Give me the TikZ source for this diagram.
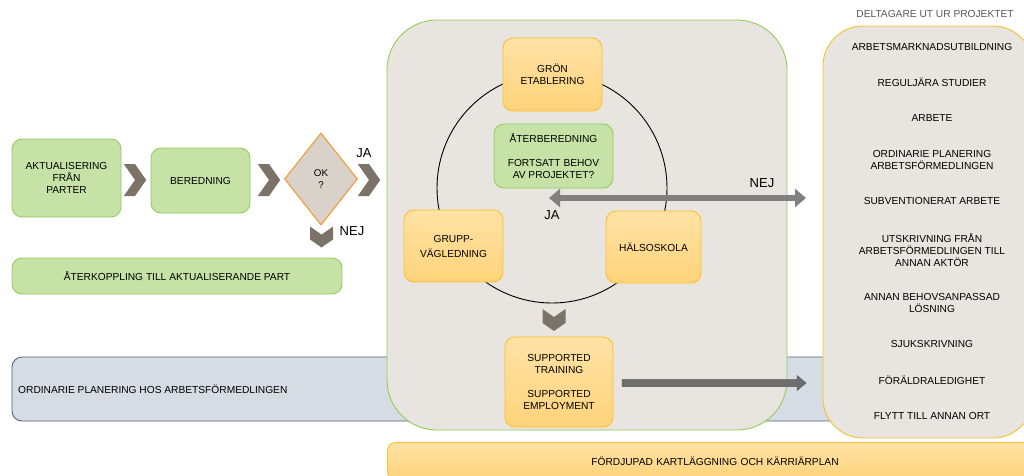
\documentclass[tikz,border=0pt]{standalone}
\usepackage{fontspec}
\setmainfont{Liberation Sans}
\usetikzlibrary{shapes.symbols,shapes.geometric,arrows.meta}
\definecolor{gfill}{HTML}{C6E2A6}
\definecolor{gdraw}{HTML}{92CD5A}
\definecolor{orL}{HTML}{FFE2A6}
\definecolor{orD}{HTML}{FFD37A}
\definecolor{odraw}{HTML}{FBC02A}
\definecolor{contfill}{HTML}{E8E5E0}
\definecolor{bandfill}{HTML}{D6DCE4}
\definecolor{banddraw}{HTML}{55607A}
\definecolor{chevcol}{HTML}{7B7268}
\definecolor{diafill}{HTML}{D8D2CA}
\definecolor{diadraw}{HTML}{F29A30}
\definecolor{arrA}{HTML}{808080}
\definecolor{arrB}{HTML}{6E6E6E}
\definecolor{txtgray}{HTML}{595959}
\tikzset{
  gbox/.style={draw=gdraw, fill=gfill, line width=0.9, rounded corners=10, align=center, inner sep=2},
  obox/.style={draw=odraw, top color=orL, bottom color=orD, line width=0.9, rounded corners=10, align=center, inner sep=2},
  chevright/.style={shape=signal, signal to=east, signal from=west, signal pointer angle=110, fill=chevcol, draw=none, inner sep=0},
  biglabel/.style={font=\fontsize{13}{15}\selectfont, inner sep=0},
  listitem/.style={align=center, inner sep=0},
}
\begin{document}
\begin{tikzpicture}[x=1pt,y=-1pt, font=\fontsize{10.2}{12.2}\selectfont]
\useasboundingbox (0,0) rectangle (1024,475);
\fill[white] (0,0) rectangle (1024,475);

% band
\node[draw=banddraw, fill=bandfill, line width=0.9, rounded corners=10, minimum width=828, minimum height=64, inner sep=0] (band) at (426,389) {};
\node[anchor=west, inner sep=0] (bandtxt) at (18,389) {ORDINARIE PLANERING HOS ARBETSFÖRMEDLINGEN};

% big project container
\node[draw=gdraw, fill=contfill, line width=0.9, rounded corners=50, minimum width=400, minimum height=410, inner sep=0] (proj) at (587,225) {};

% right container
\node[draw=odraw, fill=contfill, line width=0.9, rounded corners=40, minimum width=210, minimum height=412, inner sep=0] (out) at (928,232) {};
\node[text=txtgray, inner sep=0] (outtitle) at (935,14) {DELTAGARE UT UR PROJEKTET};

% bottom orange
\node[obox, minimum width=645, minimum height=37, text width=640, rounded corners=8] (ford) at (710,461) {\hspace*{10pt}FÖRDJUPAD KARTLÄGGNING OCH KÄRRIÄRPLAN};

% left flow
\node[gbox, minimum width=109, minimum height=78] (akt) at (66.5,178) {AKTUALISERING\\FRÅN\\PARTER};
\node[chevright, minimum width=20, minimum height=32] (c1) at (135,180) {};
\node[gbox, minimum width=99, minimum height=65] (bered) at (200.5,180.5) {BEREDNING};
\node[chevright, minimum width=21, minimum height=32] (c2) at (269,180) {};
\node[shape=diamond, draw=diadraw, fill=diafill, line width=1.1, minimum width=73, minimum height=92, inner sep=0, align=center, font=\fontsize{9.8}{12}\selectfont] (ok) at (321,179) {OK\\?};
\node[chevright, minimum width=21, minimum height=32] (c3) at (369,180) {};
\node[biglabel] (ja1) at (364,153) {JA};
\node[chevright, rotate=-90, minimum width=21, minimum height=23] (c4) at (321.5,237) {};
\node[biglabel] (nej1) at (352,231) {NEJ};
\node[gbox, minimum width=330, minimum height=36] (aterk) at (177,276) {ÅTERKOPPLING TILL AKTUALISERANDE PART};

% cycle
\node[circle, draw=black, line width=0.9, minimum size=230, inner sep=0] (ring) at (552,188) {};
\node[obox, minimum width=99, minimum height=73] (gron) at (552.5,74.5) {GRÖN\\ETABLERING};
\node[gbox, minimum width=119, minimum height=64] (ater) at (553.5,156) {ÅTERBEREDNING\\[12pt]FORTSATT BEHOV\\AV PROJEKTET?};
\node[obox, minimum width=99, minimum height=72, font=\fontsize{10.2}{15}\selectfont] (grupp) at (453.5,246) {GRUPP-\\VÄGLEDNING};
\node[obox, minimum width=95, minimum height=72] (halso) at (653.5,247) {HÄLSOSKOLA};

% ja / nej double arrow
\coordinate (jaend) at (549,198);
\coordinate (nejend) at (806,198);
\draw[arrA, line width=6, {Triangle[width=18,length=11]}-{Triangle[width=18,length=11]}] (jaend) -- (nejend);
\node[biglabel] (ja2) at (552,215) {JA};
\node[biglabel] (nej2) at (762,183) {NEJ};

% supported
\node[chevright, rotate=-90, minimum width=22, minimum height=23] (c5) at (554,320) {};
\node[obox, minimum width=108, minimum height=90] (supp) at (559,382) {SUPPORTED\\TRAINING\\[12pt]SUPPORTED\\EMPLOYMENT};
\draw[arrB!80!black, fill=arrB, line width=0.5] (622,379.5) -- (797,379.5) -- (797,375.5) -- (806,383) -- (797,390.5) -- (797,386.5) -- (622,386.5) -- cycle;

% list
\node[listitem] (l1) at (932,47) {ARBETSMARKNADSUTBILDNING};
\node[listitem] (l2) at (932,82) {REGULJÄRA STUDIER};
\node[listitem] (l3) at (932,118) {ARBETE};
\node[listitem] (l4) at (932,160) {ORDINARIE PLANERING\\ARBETSFÖRMEDLINGEN};
\node[listitem] (l5) at (932,201) {SUBVENTIONERAT ARBETE};
\node[listitem] (l6) at (932,250) {UTSKRIVNING FRÅN\\ARBETSFÖRMEDLINGEN TILL\\ANNAN AKTÖR};
\node[listitem] (l7) at (932,303) {ANNAN BEHOVSANPASSAD\\LÖSNING};
\node[listitem] (l8) at (932,344) {SJUKSKRIVNING};
\node[listitem] (l9) at (932,380) {FÖRÄLDRALEDIGHET};
\node[listitem] (l10) at (932,416) {FLYTT TILL ANNAN ORT};
\end{tikzpicture}
\end{document}
